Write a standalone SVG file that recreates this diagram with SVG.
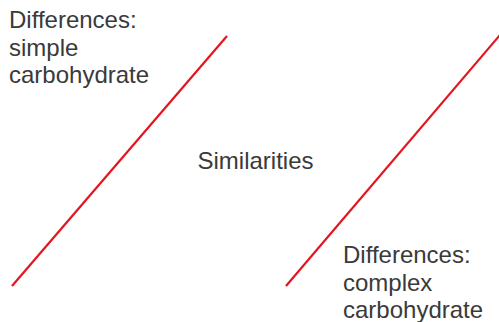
<svg xmlns="http://www.w3.org/2000/svg" width="499" height="322" viewBox="0 0 499 322">
<style>
.t{font-family:"Liberation Sans",Arial,sans-serif;font-size:24px;fill:#3a3a3a}
.ln{stroke:#e3151f;stroke-width:2.2;fill:none}
</style>
<rect width="499" height="322" fill="#ffffff"/>
<g id="connectors">
<line class="ln" x1="12" y1="286" x2="227" y2="36"/>
<line class="ln" x1="286" y1="286" x2="500" y2="35"/>
</g>
<g id="simple">
<text class="t" x="9" y="28">Differences:</text>
<text class="t" x="9" y="56">simple</text>
<text class="t" x="9" y="83">carbohydrate</text>
</g>
<g id="similarities">
<text class="t" x="255.5" y="169" text-anchor="middle">Similarities</text>
</g>
<g id="complex">
<text class="t" x="343" y="263">Differences:</text>
<text class="t" x="343" y="291">complex</text>
<text class="t" x="343" y="318">carbohydrate</text>
</g>
</svg>
